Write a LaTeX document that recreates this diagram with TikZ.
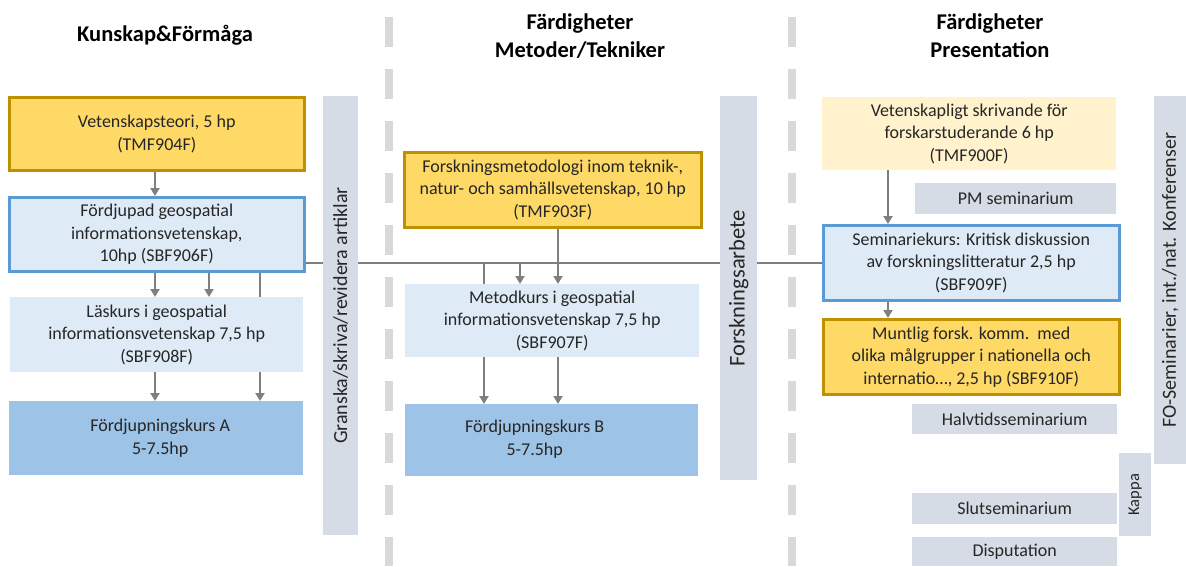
\documentclass[tikz,border=0pt]{standalone}
\usepackage{fontspec}
\setmainfont{Carlito}
\usetikzlibrary{arrows.meta}
\definecolor{gold}{HTML}{FFD966}
\definecolor{goldline}{HTML}{BF9000}
\definecolor{lblue}{HTML}{DEEBF7}
\definecolor{blueline}{HTML}{5B9BD5}
\definecolor{mblue}{HTML}{9DC3E6}
\definecolor{bar}{HTML}{D6DCE5}
\definecolor{lyellow}{HTML}{FFF2CC}
\definecolor{divider}{HTML}{D9D9D9}
\definecolor{conn}{HTML}{7F7F7F}
\definecolor{txt}{HTML}{262626}
\tikzset{
  base/.style={anchor=north west, inner sep=0pt, align=center, text=txt,
    font=\fontsize{18}{22.5}\selectfont},
  goldbox/.style={base, fill=gold, draw=goldline, line width=2.5pt},
  bluebox/.style={base, fill=lblue, draw=blueline, line width=2.5pt},
  lbluebox/.style={base, fill=lblue},
  mbluebox/.style={base, fill=mblue},
  ybox/.style={base, fill=lyellow},
  greybox/.style={base, fill=bar},
  vbar/.style={base, fill=bar},
  vtext/.style={rotate=90, text=txt, font=\fontsize{20}{24}\selectfont, inner sep=0pt},
  plain/.style={align=center, text=txt, inner sep=0pt, font=\fontsize{18}{22.5}\selectfont},
  head/.style={align=center, text=black, font=\bfseries\fontsize{22.5}{28}\selectfont, inner sep=0pt},
  cn/.style={draw=conn, line width=2.5pt},
  arr/.style={cn, -{Triangle[length=8pt,width=9pt]}},
  dline/.style={draw=divider, line width=8pt, dash pattern=on 30pt off 22pt}
}
\begin{document}
\begin{tikzpicture}[x=1pt,y=-1pt]
\useasboundingbox (0,0) rectangle (1186,566);
% dividers
\coordinate (d1t) at (389,17); \coordinate (d1b) at (389,566);
\coordinate (d2t) at (792,17); \coordinate (d2b) at (792,566);
\draw[dline] (d1t) -- (d1b);
\draw[dline] (d2t) -- (d2b);
% headers
\node[head] (h1) at (165,35) {Kunskap\&Förmåga};
\node[head] (h2) at (580,36) {Färdigheter\\Metoder/Tekniker};
\node[head] (h3) at (990,36) {Färdigheter\\Presentation};
% left column
\node[goldbox, minimum width=295pt, minimum height=73pt] (vt) at (8,96) {Vetenskapsteori, 5 hp\\(TMF904F)};
\node[bluebox, minimum width=295pt, minimum height=74pt] (fg) at (8,196) {Fördjupad geospatial\\informationsvetenskap,\\10hp (SBF906F)};
\node[mbluebox, minimum width=294pt, minimum height=74pt] (fa) at (9,401) {};
\node[plain] (fat) at ([xshift=4pt]fa.center) {Fördjupningskurs A\\5-7.5hp};
\coordinate (x155) at (155,0); \coordinate (x209) at (209,0); \coordinate (x260) at (260,0);
\draw[arr] (fg.south -| x260) -- (fa.north -| x260);
\node[lbluebox, minimum width=293pt, minimum height=75pt] (lk) at (10,297) {Läskurs i geospatial\\informationsvetenskap 7,5 hp\\(SBF908F)};
\draw[arr] (vt.south -| x155) -- (fg.north -| x155);
\draw[arr] (fg.south -| x155) -- (lk.north -| x155);
\draw[arr] (fg.south -| x209) -- (lk.north -| x209);
\draw[arr] (lk.south -| x155) -- (fa.north -| x155);
% middle column
\node[goldbox, minimum width=297pt, minimum height=75pt] (fm) at (403,151) {Forskningsmetodologi inom teknik-,\\natur- och samhällsvetenskap, 10 hp\\(TMF903F)};
\node[mbluebox, minimum width=293pt, minimum height=72pt] (fb) at (405,404) {};
\node[plain] (fbt) at ([xshift=-17pt,yshift=1pt]fb.center) {Fördjupningskurs B\\5-7.5hp};
% right column
\node[ybox, minimum width=294pt, minimum height=73pt] (vs) at (822,97) {Vetenskapligt skrivande för\\forskarstuderande 6 hp\\(TMF900F)};
\node[greybox, minimum width=201pt, minimum height=31pt] (pm) at (915,183) {PM seminarium};
\node[bluebox, minimum width=296pt, minimum height=75pt] (sk) at (822,224) {Seminariekurs: Kritisk diskussion\\av forskningslitteratur 2,5 hp\\(SBF909F)};
\node[goldbox, minimum width=296pt, minimum height=75pt] (mf) at (822,318) {Muntlig forsk. komm.\ \ med\\olika målgrupper i nationella och\\internatio…, 2,5 hp (SBF910F)};
\node[greybox, minimum width=205pt, minimum height=30pt] (hs) at (912,404) {Halvtidsseminarium};
\node[greybox, minimum width=205pt, minimum height=31pt] (ss) at (912,493) {Slutseminarium};
\node[greybox, minimum width=205pt, minimum height=29pt] (dp) at (912,537) {Disputation};
\coordinate (x888) at (888,0);
\draw[arr] (vs.south -| x888) -- (sk.north -| x888);
\draw[arr] (sk.south -| x888) -- (mf.north -| x888);
% main horizontal line
\draw[cn] (fg.east |- sk.west) -- (sk.west);
% middle connectors
\coordinate (x484) at (484,0); \coordinate (x520) at (520,0); \coordinate (x558) at (558,0);
\coordinate (mktop) at (0,284);
\draw[arr] (sk.west -| x484) -- (fb.north -| x484);
\draw[arr] (sk.west -| x520) -- (mktop -| x520);
\draw[arr] (fm.south -| x558) -- (mktop -| x558);
\node[lbluebox, minimum width=294pt, minimum height=73pt] (mk) at (405,284) {Metodkurs i geospatial\\informationsvetenskap 7,5 hp\\(SBF907F)};
\draw[arr] (mk.south -| x558) -- (fb.north -| x558);
% vertical bars
\node[vbar, minimum width=35pt, minimum height=439pt] (gb) at (323,96) {};
\node[vtext] (gbt) at (gb.center) {Granska/skriva/revidera artiklar};
\node[vbar, minimum width=37pt, minimum height=384pt] (fab) at (720,96) {};
\node[vtext, font=\fontsize{22.5}{26}\selectfont] (fabt) at (fab.center) {Forskningsarbete};
\node[vbar, minimum width=32pt, minimum height=83pt] (kb) at (1119,453) {};
\node[vtext, font=\fontsize{16.5}{20}\selectfont] (kbt) at (kb.center) {Kappa};
\node[vbar, minimum width=32pt, minimum height=368pt] (fob) at (1154,96) {};
\node[vtext] (fobt) at (fob.center) {FO-Seminarier, int./nat. Konferenser};
\end{tikzpicture}
\end{document}
